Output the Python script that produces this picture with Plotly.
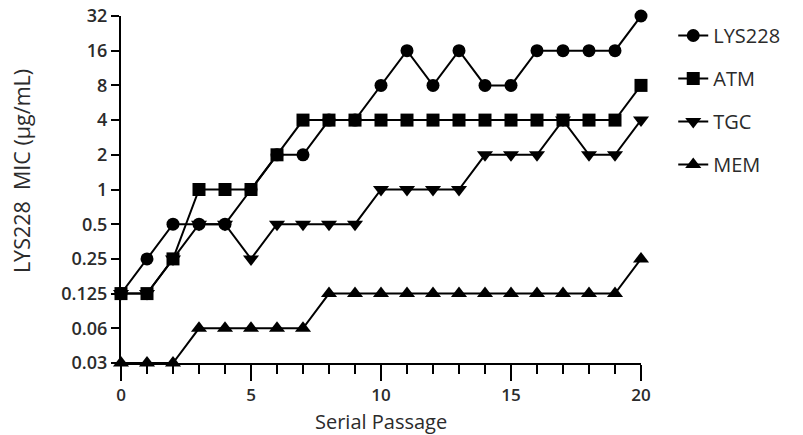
import plotly.graph_objects as go

passage = list(range(21))
lys228 = [0.125, 0.25, 0.5, 0.5, 0.5, 1, 2, 2, 4, 4, 8, 16, 8, 16, 8, 8, 16, 16, 16, 16, 32]
atm = [0.125, 0.125, 0.25, 1, 1, 1, 2, 4, 4, 4, 4, 4, 4, 4, 4, 4, 4, 4, 4, 4, 8]
tgc = [0.125, 0.125, 0.25, 0.5, 0.5, 0.25, 0.5, 0.5, 0.5, 0.5, 1, 1, 1, 1, 2, 2, 2, 4, 2, 2, 4]
mem = [0.03125, 0.03125, 0.03125, 0.0625, 0.0625, 0.0625, 0.0625, 0.0625, 0.125, 0.125, 0.125,
       0.125, 0.125, 0.125, 0.125, 0.125, 0.125, 0.125, 0.125, 0.125, 0.25]

y_tickvals = [0.03125, 0.0625, 0.125, 0.25, 0.5, 1, 2, 4, 8, 16, 32]
y_ticktext = ["0.03", "0.06", "0.125", "0.25", "0.5", "1", "2", "4", "8", "16", "32"]

series = [
    ("LYS228", lys228, "circle", 13),
    ("ATM", atm, "square", 13),
    ("TGC", tgc, "triangle-down", 14),
    ("MEM", mem, "triangle-up", 14),
]

fig = go.Figure()
for i, (name, vals, sym, sz) in enumerate(series):
    fig.add_trace(go.Scatter(
        x=passage, y=vals, name=name, mode="lines+markers",
        line=dict(color="black", width=2),
        marker=dict(symbol=sym, size=sz, color="black"),
        cliponaxis=False, legendgroup=name,
    ))

font_fam = "Open Sans, DejaVu Sans, sans-serif"
txt = "#2b2b2b"
fig.update_layout(
    template="simple_white",
    width=803, height=435,
    margin=dict(l=121, r=162, t=16, b=72),
    plot_bgcolor="white", paper_bgcolor="white",
    font=dict(family=font_fam, color=txt),
    showlegend=True,
    legend=dict(x=1.062, y=1.0, xanchor="left", yanchor="top",
                font=dict(size=20, color=txt), tracegroupgap=14,
                itemwidth=30, bgcolor="rgba(0,0,0,0)"),
    annotations=[
        dict(text="LYS228  MIC (µg/mL)", textangle=-90, showarrow=False,
             xref="paper", yref="paper", x=-0.1923, y=0.553, xanchor="center", yanchor="middle",
             font=dict(size=21.5, color=txt), borderpad=0),
        dict(text="Serial Passage", showarrow=False,
             xref="paper", yref="paper", x=0.5, y=-0.1686, xanchor="center", yanchor="middle",
             font=dict(size=20, color=txt), borderpad=0),
    ],
)
fig.update_xaxes(
    range=[0, 20], tickmode="array", tickvals=[0, 5, 10, 15, 20], ticks="outside", ticklen=16,
    tickwidth=2, tickcolor="black", showline=True, linecolor="black", linewidth=2,
    showgrid=False, zeroline=False, automargin=False, ticklabelstandoff=0,
    ticklabeloverflow="allow",
    tickfont=dict(size=17, color=txt, weight=600),
    minor=dict(dtick=1, tick0=0, ticks="outside", ticklen=9, tickwidth=2, tickcolor="black", showgrid=False),
)
fig.update_yaxes(
    type="log", range=[-1.50515, 1.50515], tickmode="array", tickvals=y_tickvals, ticktext=y_ticktext,
    ticks="outside", ticklen=8, tickwidth=2, tickcolor="black",
    showline=True, linecolor="black", linewidth=2, showgrid=False, zeroline=False, automargin=False,
    ticklabelstandoff=0, ticklabeloverflow="allow",
    tickfont=dict(size=18, color=txt, weight=600),
)

fig.write_html("out.html", config={"displayModeBar": False},
               post_script="document.body.style.margin='0';")
